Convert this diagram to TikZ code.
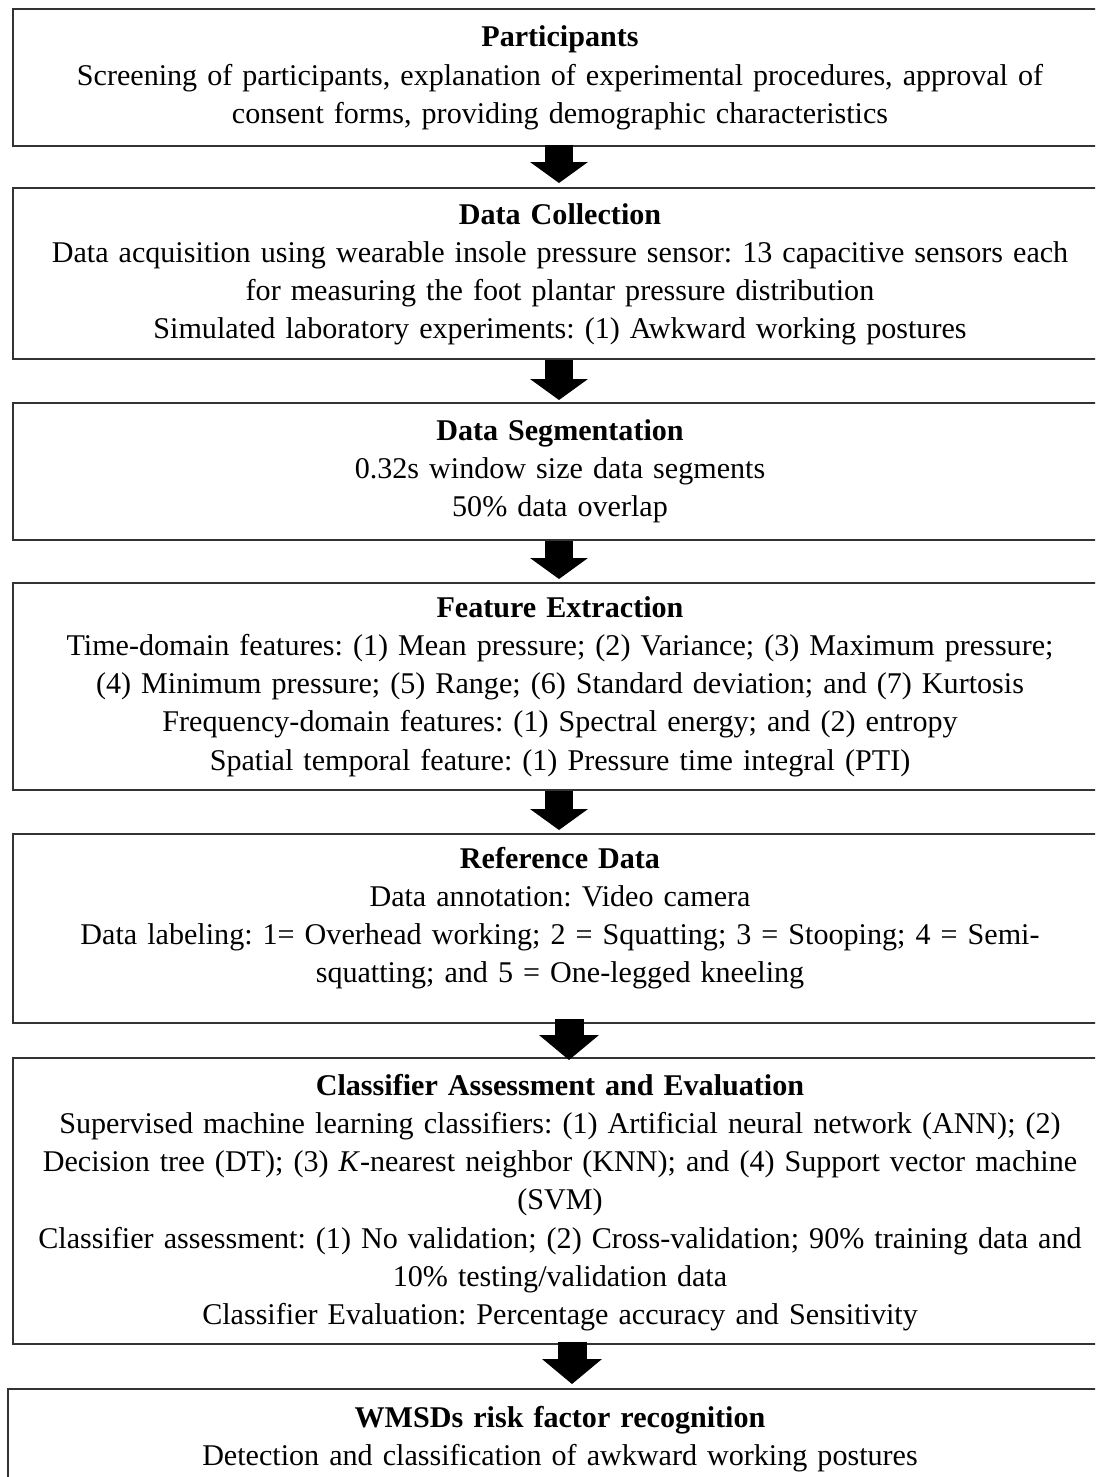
\documentclass[tikz,border=0pt]{standalone}
\usepackage{fontspec}
\setmainfont{Liberation Serif}
\usetikzlibrary{arrows.meta,calc}
\begin{document}
\frenchspacing
\begin{tikzpicture}[x=1pt,y=-1pt,
  box/.style={draw=black!80, line width=1.6pt, anchor=north west, inner sep=0pt, minimum width=1110pt},
  txt/.style={anchor=base, text width=1080pt, align=center, inner sep=0pt, font=\fontsize{30.1}{38.3}\selectfont},
  flow/.style={line width=28pt, -{Triangle[length=21pt, width=58pt, line width=0pt]}},
  flowbig/.style={line width=29pt, -{Triangle[length=25pt, width=60pt, line width=0pt]}}
]
\useasboundingbox (0,0) rectangle (1095,1477);
\clip (0,0) rectangle (1095,1477);
\fill[white] (0,0) rectangle (1095,1477);

% stage boxes
\node[box, minimum height=137pt] (b1) at (12,8) {};
\node[box, minimum height=171pt] (b2) at (12,187) {};
\node[box, minimum height=137pt] (b3) at (12,402) {};
\node[box, minimum height=207pt] (b4) at (12,582) {};
\node[box, minimum height=189pt] (b5) at (12,833) {};
\node[box, minimum height=286pt] (b6) at (12,1057) {};
\node[box, minimum height=150pt, minimum width=1120pt] (b7) at (7,1388) {};

% stage texts
\node[txt] (t1) at (560,47) {\textbf{Participants}\\
Screening of participants, explanation of experimental procedures, approval of\\
consent forms, providing demographic characteristics};
\node[txt] (t2) at (560,224) {\textbf{Data Collection}\\
Data acquisition using wearable insole pressure sensor: 13 capacitive sensors each\\
for measuring the foot plantar pressure distribution\\
Simulated laboratory experiments: (1) Awkward working postures};
\node[txt] (t3) at (560,440) {\textbf{Data Segmentation}\\
0.32s window size data segments\\
50\% data overlap};
\node[txt] (t4) at (560,617) {\textbf{Feature Extraction}\\
Time-domain features: (1) Mean pressure; (2) Variance; (3) Maximum pressure;\\
(4) Minimum pressure; (5) Range; (6) Standard deviation; and (7) Kurtosis\\
Frequency-domain features: (1) Spectral energy; and (2) entropy\\
Spatial temporal feature: (1) Pressure time integral (PTI)};
\node[txt] (t5) at (560,868) {\textbf{Reference Data}\\
Data annotation: Video camera\\
Data labeling: 1= Overhead working; 2 = Squatting; 3 = Stooping; 4 = Semi-\\
squatting; and 5 = One-legged kneeling};
\node[txt] (t6) at (560,1095) {\textbf{Classifier Assessment and Evaluation}\\
Supervised machine learning classifiers: (1) Artificial neural network (ANN); (2)\\
Decision tree (DT); (3) \textit{K}-nearest neighbor (KNN); and (4) Support vector machine\\
(SVM)\\
Classifier assessment: (1) No validation; (2) Cross-validation; 90\% training data and\\
10\% testing/validation data\\
Classifier Evaluation: Percentage accuracy and Sensitivity};
\node[txt] (t7) at (560,1427) {\textbf{WMSDs risk factor recognition}\\
Detection and classification of awkward working postures};

% block arrows between stages
\coordinate (ax) at (559,0);
\coordinate (ax5) at (569,0);
\coordinate (ax6) at (572,0);
\draw[flow] ($(b1.south -| ax)+(0,-2)$) -- ($(b2.north -| ax)+(0,-4)$);
\draw[flow] (b2.south -| ax) -- ($(b3.north -| ax)+(0,-2)$);
\draw[flow] (b3.south -| ax) -- ($(b4.north -| ax)+(0,-3)$);
\draw[flow] (b4.south -| ax) -- ($(b5.north -| ax)+(0,-3)$);
\draw[flowbig] ($(b5.south -| ax5)+(0,-5)$) -- ($(b6.north -| ax5)+(0,3)$);
\draw[flowbig] ($(b6.south -| ax6)+(0,-3)$) -- ($(b7.north -| ax6)+(0,-4)$);
\end{tikzpicture}
\end{document}
